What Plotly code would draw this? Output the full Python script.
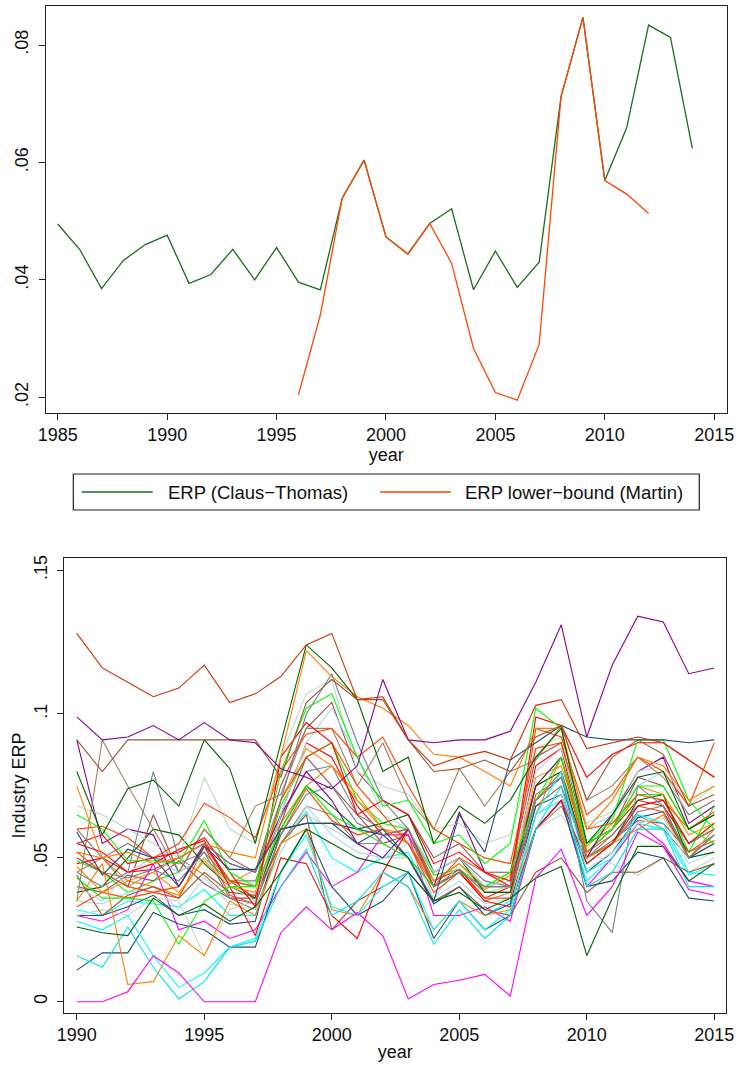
import plotly.graph_objects as go

# ---------------- data: top panel ----------------
years_ct = list(range(1985, 2015))
erp_claus_thomas = [0.0495, 0.0452, 0.0385, 0.0433, 0.0460, 0.0476, 0.0394, 0.0409, 0.0452, 0.0400,
                    0.0455, 0.0396, 0.0383, 0.0539, 0.0604, 0.0473, 0.0444, 0.0496, 0.0521, 0.0383,
                    0.0449, 0.0387, 0.0430, 0.0712, 0.0847, 0.0569, 0.0659, 0.0834, 0.0813, 0.0624]
years_martin = list(range(1996, 2013))
erp_martin = [0.0204, 0.0340, 0.0539, 0.0604, 0.0473, 0.0444, 0.0496, 0.0428, 0.0283, 0.0208,
              0.0195, 0.0290, 0.0712, 0.0847, 0.0569, 0.0546, 0.0513]
top_xticks = [1985, 1990, 1995, 2000, 2005, 2010, 2015]
top_yticks = [0.02, 0.04, 0.06, 0.08]
top_yticktext = [".02", ".04", ".06", ".08"]

# ---------------- data: bottom panel (industry ERP, 1990-2015) ----------------
years_ind = list(range(1990, 2016))
bot_xticks = [1990, 1995, 2000, 2005, 2010, 2015]
bot_yticks = [0, 0.05, 0.1, 0.15]
bot_yticktext = ["0", ".05", ".1", ".15"]

ind01 = [.128, .116, .111, .106, .109, .117, .104, .107, .113, .124, .128, .105, .106, .091, .082, .085, .087, .084, .103, .105, .088, .090, .092, .090, .084, .078]
ind02 = [.099, .091, .092, .096, .091, .097, .091, .090, .081, .078, .074, .082, .112, .091, .090, .091, .091, .094, .111, .131, .092, .117, .134, .132, .114, .116]
ind03 = [.091, .080, .091, .091, .091, .091, .091, .091, .078, .104, .112, .105, .105, .091, .080, .081, .084, .080, .092, .096, .070, .085, .091, .086, .068, .072]
ind04 = [.080, .058, .074, .077, .068, .091, .081, .055, .090, .124, .116, .105, .080, .085, .055, .068, .062, .070, .085, .095, .055, .065, .078, .080, .060, .065]
ind05 = [.075, .050, .052, .048, .050, .055, .052, .050, .085, .122, .113, .106, .102, .096, .086, .085, .080, .075, .095, .095, .060, .070, .085, .082, .070, .075]
ind06 = [.059, .044, .053, .050, .040, .054, .046, .046, .060, .062, .062, .055, .060, .050, .035, .065, .052, .084, .090, .096, .092, .091, .091, .091, .090, .091]
ind07 = [.000, .000, .0035, .016, .010, .000, .000, .000, .024, .033, .025, .031, .023, .001, .006, .0075, .0095, .002, .043, .053, .030, .040, .059, .054, .039, .037]
ind08 = [.026, .024, .023, .036, .030, .034, .028, .033, .045, .060, .055, .050, .048, .045, .035, .038, .032, .036, .043, .047, .016, .036, .054, .054, .042, .048]
ind09 = [.016, .012, .026, .012, .001, .007, .019, .021, .040, .053, .030, .035, .045, .040, .020, .032, .022, .030, .060, .075, .040, .045, .060, .060, .040, .040]
ind10 = [.028, .025, .030, .016, .005, .010, .019, .022, .045, .058, .033, .030, .040, .045, .025, .035, .025, .032, .065, .080, .045, .050, .065, .062, .045, .044]
ind11 = [.045, .040, .045, .080, .050, .055, .048, .045, .070, .100, .114, .090, .070, .060, .040, .045, .040, .040, .070, .080, .035, .024, .075, .068, .050, .058]
ind12 = [.065, .060, .049, .049, .048, .063, .045, .040, .080, .102, .107, .085, .068, .070, .055, .058, .048, .055, .102, .095, .055, .063, .091, .091, .070, .060]
ind13 = [.043, .036, .036, .035, .020, .035, .040, .040, .060, .075, .065, .060, .055, .050, .040, .045, .040, .045, .070, .085, .055, .060, .075, .075, .060, .055]
ind14 = [.055, .058, .048, .050, .052, .057, .045, .033, .085, .097, .090, .065, .070, .065, .048, .052, .045, .042, .099, .096, .078, .086, .090, .090, .084, .078]
ind15 = [.055, .052, .045, .048, .053, .056, .040, .023, .050, .048, .030, .022, .045, .060, .040, .045, .035, .033, .060, .070, .048, .055, .068, .070, .055, .062]
ind16 = [.060, .061, .057, .050, .055, .069, .064, .057, .080, .093, .095, .085, .092, .075, .060, .055, .050, .048, .088, .090, .060, .062, .072, .070, .060, .066]
ind17 = [.052, .045, .040, .038, .040, .054, .042, .040, .070, .085, .090, .075, .065, .055, .040, .050, .045, .040, .095, .092, .065, .072, .085, .080, .068, .090]
ind18 = [.035, .048, .006, .007, .023, .016, .035, .030, .055, .060, .032, .030, .045, .040, .025, .035, .030, .032, .065, .085, .050, .055, .060, .065, .050, .060]
ind19 = [.035, .091, .075, .060, .045, .060, .050, .068, .072, .095, .095, .075, .090, .070, .060, .081, .068, .080, .084, .096, .070, .075, .085, .078, .065, .070]
ind20 = [.040, .035, .045, .050, .045, .050, .040, .035, .065, .090, .102, .085, .065, .060, .045, .050, .040, .042, .080, .088, .060, .065, .075, .080, .065, .070]
ind21 = [.068, .065, .060, .055, .050, .078, .060, .055, .085, .107, .112, .080, .075, .072, .060, .062, .055, .058, .088, .092, .062, .066, .080, .082, .068, .075]
ind22 = [.050, .045, .040, .065, .045, .060, .050, .045, .075, .095, .104, .080, .070, .065, .050, .055, .045, .045, .085, .090, .055, .060, .078, .075, .060, .065]
ind23 = [.091, .055, .060, .058, .040, .055, .048, .045, .065, .080, .070, .055, .050, .060, .040, .066, .045, .040, .075, .085, .050, .065, .080, .085, .062, .068]
ind24 = [.011, .017, .017, .031, .027, .025, .019, .019, .045, .060, .040, .030, .035, .045, .022, .035, .025, .030, .060, .070, .040, .042, .052, .050, .036, .035]
ind25 = [.047, .038, .042, .045, .038, .049, .040, .038, .070, .088, .082, .070, .060, .055, .042, .048, .040, .040, .078, .082, .055, .060, .075, .072, .058, .062]
ind26 = [.044, .030, .037, .040, .036, .045, .038, .037, .055, .065, .025, .035, .040, .045, .035, .040, .032, .030, .045, .050, .038, .045, .045, .050, .045, .048]
ind27 = [.050, .045, .043, .046, .042, .052, .036, .034, .058, .072, .075, .062, .058, .060, .045, .050, .042, .040, .070, .078, .050, .058, .068, .070, .055, .060]
ind28 = [.038, .040, .050, .060, .058, .048, .040, .036, .060, .075, .068, .060, .062, .065, .045, .050, .038, .038, .075, .080, .050, .055, .070, .072, .050, .052]
ind29 = [.033, .038, .036, .038, .036, .054, .037, .034, .058, .074, .063, .058, .060, .055, .038, .045, .036, .036, .072, .078, .052, .058, .068, .066, .052, .056]
ind30 = [.030, .032, .030, .036, .035, .016, .032, .035, .055, .065, .060, .055, .050, .050, .036, .048, .038, .040, .060, .065, .052, .048, .044, .050, .045, .050]
ind31 = [.035, .034, .038, .040, .032, .043, .034, .032, .052, .068, .058, .052, .050, .055, .036, .042, .034, .036, .065, .072, .046, .052, .062, .064, .048, .052]
ind32 = [.030, .030, .033, .037, .030, .032, .027, .028, .060, .062, .062, .060, .058, .050, .034, .040, .030, .034, .068, .072, .045, .052, .064, .066, .050, .055]
ind33 = [.030, .028, .032, .048, .025, .028, .022, .025, .040, .052, .040, .045, .058, .058, .030, .030, .033, .028, .060, .070, .040, .050, .062, .055, .042, .040]
ind34 = [.045, .050, .040, .045, .050, .044, .036, .032, .055, .068, .065, .055, .055, .050, .040, .045, .035, .038, .060, .068, .048, .055, .065, .060, .050, .055]
ind35 = [.040, .038, .044, .042, .049, .041, .036, .036, .062, .085, .075, .065, .055, .058, .040, .046, .038, .038, .068, .075, .050, .056, .063, .062, .052, .058]
ind36 = [.052, .050, .042, .040, .037, .050, .041, .046, .062, .075, .082, .072, .060, .058, .042, .048, .039, .044, .075, .080, .054, .062, .072, .070, .055, .062]
ind37 = [.049, .045, .038, .042, .045, .050, .042, .040, .068, .085, .090, .070, .062, .060, .044, .046, .040, .045, .075, .085, .052, .060, .072, .072, .052, .068]
ind38 = [.060, .050, .055, .050, .048, .052, .042, .042, .064, .080, .082, .065, .060, .055, .042, .048, .040, .040, .070, .078, .048, .055, .066, .068, .050, .058]
ind39 = [.032, .030, .035, .034, .033, .039, .030, .030, .055, .066, .050, .045, .050, .052, .034, .040, .030, .035, .065, .070, .042, .050, .062, .060, .044, .048]
ind40 = [.048, .050, .045, .046, .050, .055, .042, .036, .065, .090, .085, .068, .058, .060, .042, .046, .036, .040, .082, .088, .052, .060, .070, .068, .055, .060]

industries = [ind01, ind02, ind03, ind04, ind05, ind06, ind07, ind08, ind09, ind10,
              ind11, ind12, ind13, ind14, ind15, ind16, ind17, ind18, ind19, ind20,
              ind21, ind22, ind23, ind24, ind25, ind26, ind27, ind28, ind29, ind30,
              ind31, ind32, ind33, ind34, ind35, ind36, ind37, ind38, ind39, ind40]
industry_colors = ["#cc3300", "#8b008b", "#a0522d", "#006400", "#ff7f00", "#1f4e79", "#ff00ff", "#006400",
                   "#00e5ee", "#00ffff", "#708090", "#00ff00", "#00ff00", "#ff0000", "#ff0000", "#ff4500",
                   "#ff4500", "#ff7f00", "#a08060", "#add8e6", "#c0d8c0", "#9c4f4f", "#8b008b", "#1f4e79",
                   "#ff8c00", "#a0522d", "#708090", "#006400", "#ff4500", "#c0d8c0", "#add8e6", "#1f4e79",
                   "#ff00ff", "#a08060", "#9c4f4f", "#ff7f00", "#00ff00", "#708090", "#00ffff", "#ff0000"]

# ---------------- layout helpers ----------------
W, H = 738, 1068
FONT = "Liberation Sans, Arial, Helvetica, sans-serif"
AX = "#222222"


def fx(x):
    return x / W


def fy(y):
    return 1 - y / H


fig = go.Figure()

for vals, col in list(zip(industries, industry_colors))[::-1]:
    fig.add_trace(go.Scatter(x=years_ind, y=vals, mode="lines", xaxis="x2", yaxis="y2",
                             line=dict(color=col, width=1.1), showlegend=False, hoverinfo="skip"))

fig.add_trace(go.Scatter(x=years_ct, y=erp_claus_thomas, mode="lines", name="ERP (Claus−Thomas)",
                         line=dict(color="#1b6e1b", width=1.3), showlegend=False))
fig.add_trace(go.Scatter(x=years_martin, y=erp_martin, mode="lines", name="ERP lower−bound (Martin)",
                         line=dict(color="#ff4500", width=1.3), showlegend=False))

axis_common = dict(showgrid=False, zeroline=False, showline=True, linecolor=AX, linewidth=1.3,
                   mirror=True, ticks="outside", ticklen=6, tickwidth=1.2, tickcolor=AX,
                   automargin=False,
                   tickfont=dict(family=FONT, size=18, color="#111111"))

fig.update_layout(
    template="none",
    width=W, height=H,
    margin=dict(l=0, r=0, t=0, b=0, pad=0),
    paper_bgcolor="white", plot_bgcolor="white",
    font=dict(family=FONT, size=18, color="#111111"),
    showlegend=False,
    xaxis=dict(domain=[fx(45.7), fx(726.7)], anchor="y", range=[1984.45, 2015.57],
               tickvals=top_xticks, title=dict(text="year", standoff=0, font=dict(size=18)),
               **axis_common),
    yaxis=dict(domain=[fy(412.7), fy(5.7)], anchor="x", range=[0.01736, 0.0867],
               tickvals=top_yticks, ticktext=top_yticktext, tickangle=-90, ticklabelstandoff=3,
               **axis_common),
    xaxis2=dict(domain=[fx(64.3), fx(726)], anchor="y2", range=[1989.51, 2015.46],
                tickvals=bot_xticks, title=dict(text="year", standoff=0, font=dict(size=18)),
                **axis_common),
    yaxis2=dict(domain=[fy(1012.7), fy(558.3)], anchor="x2", range=[-0.0038, 0.1541],
                tickvals=bot_yticks, ticktext=bot_yticktext, tickangle=-90, ticklabelstandoff=3,
                title=dict(text="Industry ERP", standoff=0, font=dict(size=18)),
                **axis_common),
)

legend_items = [("ERP (Claus−Thomas)", "#1b6e1b", 81.7, 152.7, 166.0),
                ("ERP lower−bound (Martin)", "#ff4500", 380.0, 451.0, 462.7)]
shapes = [dict(type="rect", xref="paper", yref="paper", x0=fx(73.3), x1=fx(699.3), y0=fy(510), y1=fy(474),
               line=dict(color=AX, width=1.2), fillcolor="rgba(0,0,0,0)")]
annotations = []
for label, col, l0, l1, tx in legend_items:
    shapes.append(dict(type="line", xref="paper", yref="paper", x0=fx(l0), x1=fx(l1), y0=fy(492), y1=fy(492),
                       line=dict(color=col, width=1.3)))
    annotations.append(dict(text=label, xref="paper", yref="paper", x=fx(tx), y=fy(492),
                            xanchor="left", yanchor="middle", showarrow=False,
                            font=dict(family=FONT, size=18.5, color="#111111")))
fig.update_layout(shapes=shapes, annotations=annotations)

fig.write_html("out.html", config={"displayModeBar": False},
               post_script="document.body.style.margin='0px';document.body.style.overflow='hidden';")
